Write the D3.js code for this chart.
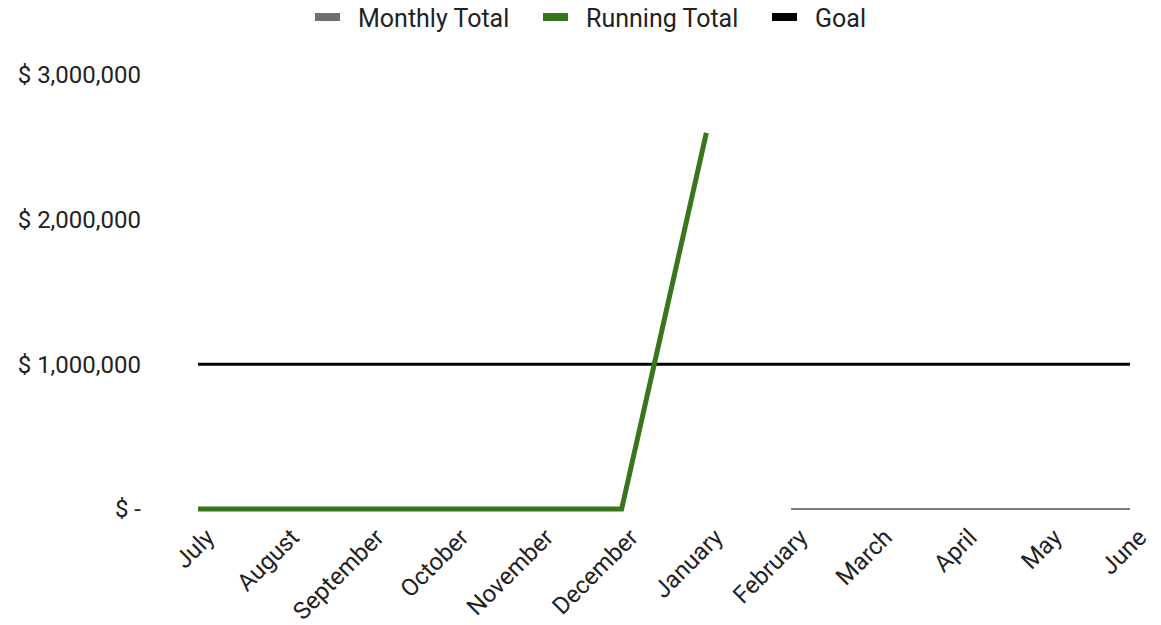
<!DOCTYPE html>
<html>
<head>
<meta charset="utf-8">
<script src="https://d3js.org/d3.v7.min.js"></script>
<style>
  body { margin: 0; background: #fff; }
  text { font-family: Roboto, "Noto Sans", sans-serif; fill: #222; }
</style>
</head>
<body>
<div id="chart"></div>
<script>
// months of the fiscal year
var months = ["July", "August", "September", "October", "November", "December",
  "January", "February", "March", "April", "May", "June"];
// monthly totals (only Feb..Jun shown, the rest sits under the running total)
var monthlyTotal = [null, null, null, null, null, null, null, 0, 0, 0, 0, 0];
var runningTotal = [0, 0, 0, 0, 0, 0, 2600000, null, null, null, null, null];
var goal = [1000000, 1000000, 1000000, 1000000, 1000000, 1000000,
  1000000, 1000000, 1000000, 1000000, 1000000, 1000000];
var yTicks = [0, 1000000, 2000000, 3000000];

var width = 1161, height = 625;
var svg = d3.select("#chart").append("svg").attr("width", width).attr("height", height);

var xs = d3.scalePoint().domain(months).range([198, 1130]);
var ys = d3.scaleLinear().domain([0, 3000000]).range([509, 75]);

var fmt = d3.format(",");
function money(v) { return v === 0 ? "$ -" : "$ " + fmt(v); }

// y axis labels
svg.append("g").selectAll("text")
  .data(yTicks).enter().append("text")
  .attr("x", 141)
  .attr("y", function (d) { return ys(d); })
  .attr("dy", "0.35em")
  .attr("text-anchor", "end")
  .style("font-size", "24px")
  .text(money);

// x axis labels
svg.append("g").selectAll("text")
  .data(months).enter().append("text")
  .attr("transform", function (d) { return "translate(" + (xs(d) + 6) + ",527) rotate(-45)"; })
  .attr("text-anchor", "end")
  .attr("dy", "0.7em")
  .style("font-size", "24px")
  .text(function (d) { return d; });

function series(vals) {
  return months.map(function (m, i) { return { m: m, v: vals[i] }; });
}
var line = d3.line()
  .defined(function (d) { return d.v !== null; })
  .x(function (d) { return xs(d.m); })
  .y(function (d) { return ys(d.v); });

svg.append("path").datum(series(monthlyTotal))
  .attr("d", line).attr("fill", "none")
  .attr("stroke", "#7a7a7a").attr("stroke-width", 2);

svg.append("path").datum(series(goal))
  .attr("d", line).attr("fill", "none")
  .attr("stroke", "#000").attr("stroke-width", 3);

svg.append("path").datum(series(runningTotal))
  .attr("d", line).attr("fill", "none")
  .attr("stroke", "#38761d").attr("stroke-width", 5)
  .attr("stroke-linejoin", "miter");

// legend
var legend = [
  { name: "Monthly Total", color: "#6f6f6f", x: 315 },
  { name: "Running Total", color: "#38761d", x: 543 },
  { name: "Goal", color: "#000", x: 772 }
];
var lg = svg.append("g").selectAll("g").data(legend).enter().append("g");
lg.append("rect")
  .attr("x", function (d) { return d.x; }).attr("y", 13)
  .attr("width", 25).attr("height", 8)
  .attr("fill", function (d) { return d.color; });
lg.append("text")
  .attr("x", function (d) { return d.x + 43; }).attr("y", 18)
  .attr("dy", "0.35em")
  .style("font-size", "25px")
  .text(function (d) { return d.name; });
</script>
</body>
</html>
